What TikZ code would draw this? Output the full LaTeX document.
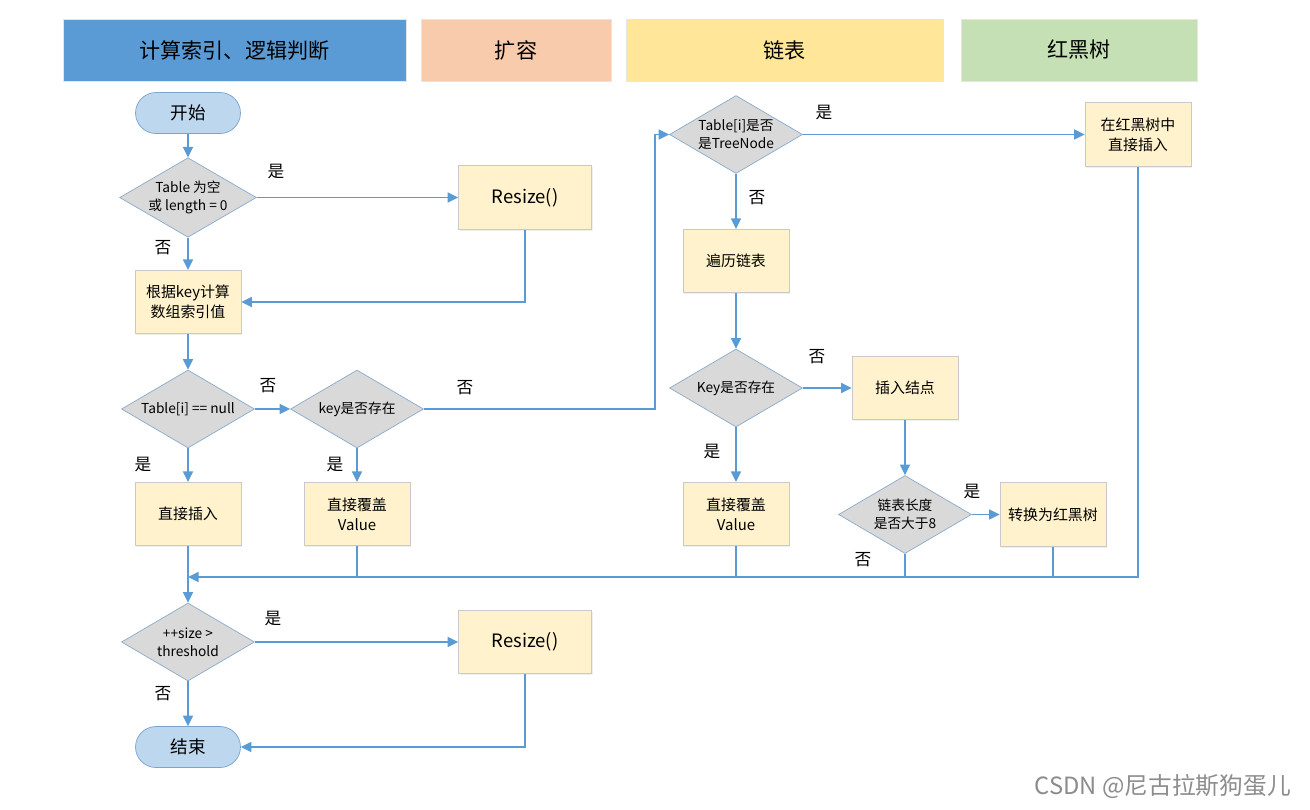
\documentclass[tikz,border=0pt]{standalone}
\usepackage{fontspec}
\setmainfont{Noto Sans CJK SC}
\usepackage{xcolor}
\usepackage{tikz}
\usetikzlibrary{arrows.meta,shapes.geometric,shadows}

\definecolor{hdblue}{HTML}{5B9BD5}
\definecolor{hdpeach}{HTML}{F8CBAD}
\definecolor{hdyellow}{HTML}{FFE699}
\definecolor{hdgreen}{HTML}{C5E0B4}
\definecolor{boxfill}{HTML}{FFF2CC}
\definecolor{boxline}{HTML}{C9C9C9}
\definecolor{diafill}{HTML}{D9D9D9}
\definecolor{dialine}{HTML}{8AAACB}
\definecolor{termfill}{HTML}{BDD7EE}
\definecolor{termline}{HTML}{7BA3CE}
\definecolor{flowline}{HTML}{5B9BD5}

\begin{document}
\begin{tikzpicture}[x=0.02cm,y=-0.02cm,>={Triangle[length=2.1mm,width=2mm]},
  head/.style={draw=black!10,minimum height=1.24cm,inner sep=0pt,font=\fontsize{12}{14}\selectfont,
    drop shadow={shadow xshift=0.6pt,shadow yshift=-0.6pt,fill=black!10}},
  proc/.style={rectangle,draw=boxline,fill=boxfill,minimum width=2.12cm,minimum height=1.27cm,inner sep=1pt,
    align=center,font=\fontsize{8.5}{11.5}\selectfont,
    drop shadow={shadow xshift=0.8pt,shadow yshift=-0.8pt,fill=black!12}},
  bigproc/.style={proc,minimum width=2.66cm,font=\fontsize{10.5}{12}\selectfont},
  decide/.style={diamond,aspect=1.72,draw=dialine,fill=diafill,inner sep=0pt,minimum width=2.66cm,
    minimum height=1.56cm,align=center,font=\fontsize{7.8}{10.5}\selectfont},
  term/.style={rectangle,rounded corners=0.41cm,draw=termline,fill=termfill,minimum width=2.1cm,
    minimum height=0.82cm,font=\fontsize{10}{12}\selectfont},
  flow/.style={draw=flowline,line width=0.85pt,->},
  link/.style={draw=flowline,line width=0.85pt},
  lbl/.style={font=\fontsize{9.5}{11}\selectfont}]
  \useasboundingbox (0,0) rectangle (1310,809);

  % swim lane headers
  \node[head,fill=hdblue,minimum width=6.86cm] (hcalc) at (234.5,50) {计算索引、逻辑判断};
  \node[head,fill=hdpeach,minimum width=3.8cm] (hgrow) at (516,50) {扩容};
  \node[head,fill=hdyellow,minimum width=6.34cm] (hlist) at (784.5,50) {链表};
  \node[head,fill=hdgreen,minimum width=4.72cm] (htree) at (1079,50) {红黑树};

  % left column
  \node[term] (start) at (188,113) {开始};
  \node[decide] (isempty) at (188,197.5) {Table 为空\\或 length = 0};
  \node[bigproc] (resizeA) at (525,197.5) {Resize()};
  \node[proc] (index) at (188,302) {根据key计算\\数组索引值};
  \node[decide] (isnull) at (188,409) {Table[i] == null};
  \node[decide] (haskey) at (357,409) {key是否存在};
  \node[proc] (putnew) at (188,514) {直接插入};
  \node[proc] (overA) at (357,514) {直接覆盖\\Value};
  \node[decide] (toobig) at (188,642) {++size >\\threshold};
  \node[bigproc] (resizeB) at (525,642) {Resize()};
  \node[term] (stop) at (188,747) {结束};

  % list and tree columns
  \node[decide] (istree) at (736,134.5) {Table[i]是否\\是TreeNode};
  \node[proc] (treeput) at (1138,134.5) {在红黑树中\\直接插入};
  \node[proc] (walk) at (736,261) {遍历链表};
  \node[decide] (keyin) at (736,388) {Key是否存在};
  \node[proc] (addnode) at (905,388) {插入结点};
  \node[proc] (overB) at (736,514) {直接覆盖\\Value};
  \node[decide] (longlist) at (905,514.5) {链表长度\\是否大于8};
  \node[proc] (totree) at (1053,514.5) {转换为红黑树};

  \coordinate (riser) at (655,409);
  \coordinate (joinL) at (188,577);

  % connectors
  \draw[flow] (start) -- (isempty);
  \draw[flow] (isempty) -- (resizeA);
  \draw[flow] (isempty) -- (index);
  \draw[flow] (resizeA.south) |- (index.east);
  \draw[flow] (index) -- (isnull);
  \draw[flow] (isnull) -- (haskey);
  \draw[flow] (isnull) -- (putnew);
  \draw[flow] (haskey) -- (overA);
  \draw[flow] (haskey.east) -- (riser) |- (istree.west);
  \draw[flow] (istree) -- (treeput);
  \draw[flow] (istree) -- (walk);
  \draw[flow] (walk) -- (keyin);
  \draw[flow] (keyin) -- (addnode);
  \draw[flow] (keyin) -- (overB);
  \draw[flow] (addnode) -- (longlist);
  \draw[flow] (longlist) -- (totree);
  \draw[flow] (treeput.south) |- (joinL);
  \draw[link] (overA.south) -- (overA.south |- joinL);
  \draw[link] (overB.south) -- (overB.south |- joinL);
  \draw[link] (longlist.south) -- (longlist.south |- joinL);
  \draw[link] (totree.south) -- (totree.south |- joinL);
  \draw[flow] (putnew) -- (toobig);
  \draw[flow] (toobig) -- (resizeB);
  \draw[flow] (toobig) -- (stop);
  \draw[flow] (resizeB.south) |- (stop.east);

  % branch labels
  \node[lbl] (yesA) at (276,171) {是};
  \node[lbl] (noA) at (163,248) {否};
  \node[lbl] (noB) at (268,386) {否};
  \node[lbl] (yesB) at (143,464) {是};
  \node[lbl] (yesC) at (335,464) {是};
  \node[lbl] (noC) at (465,388) {否};
  \node[lbl] (yesD) at (824,113) {是};
  \node[lbl] (noD) at (757,198) {否};
  \node[lbl] (noE) at (817,357) {否};
  \node[lbl] (yesE) at (712,451) {是};
  \node[lbl] (yesF) at (972,491) {是};
  \node[lbl] (noF) at (863,560) {否};
  \node[lbl] (yesG) at (273,618) {是};
  \node[lbl] (noG) at (163,694) {否};

  % watermark
  \node[anchor=east,text=black!45,font=\fontsize{13.5}{15}\selectfont] (mark) at (1297,786) {CSDN @尼古拉斯狗蛋儿};
\end{tikzpicture}
\end{document}
